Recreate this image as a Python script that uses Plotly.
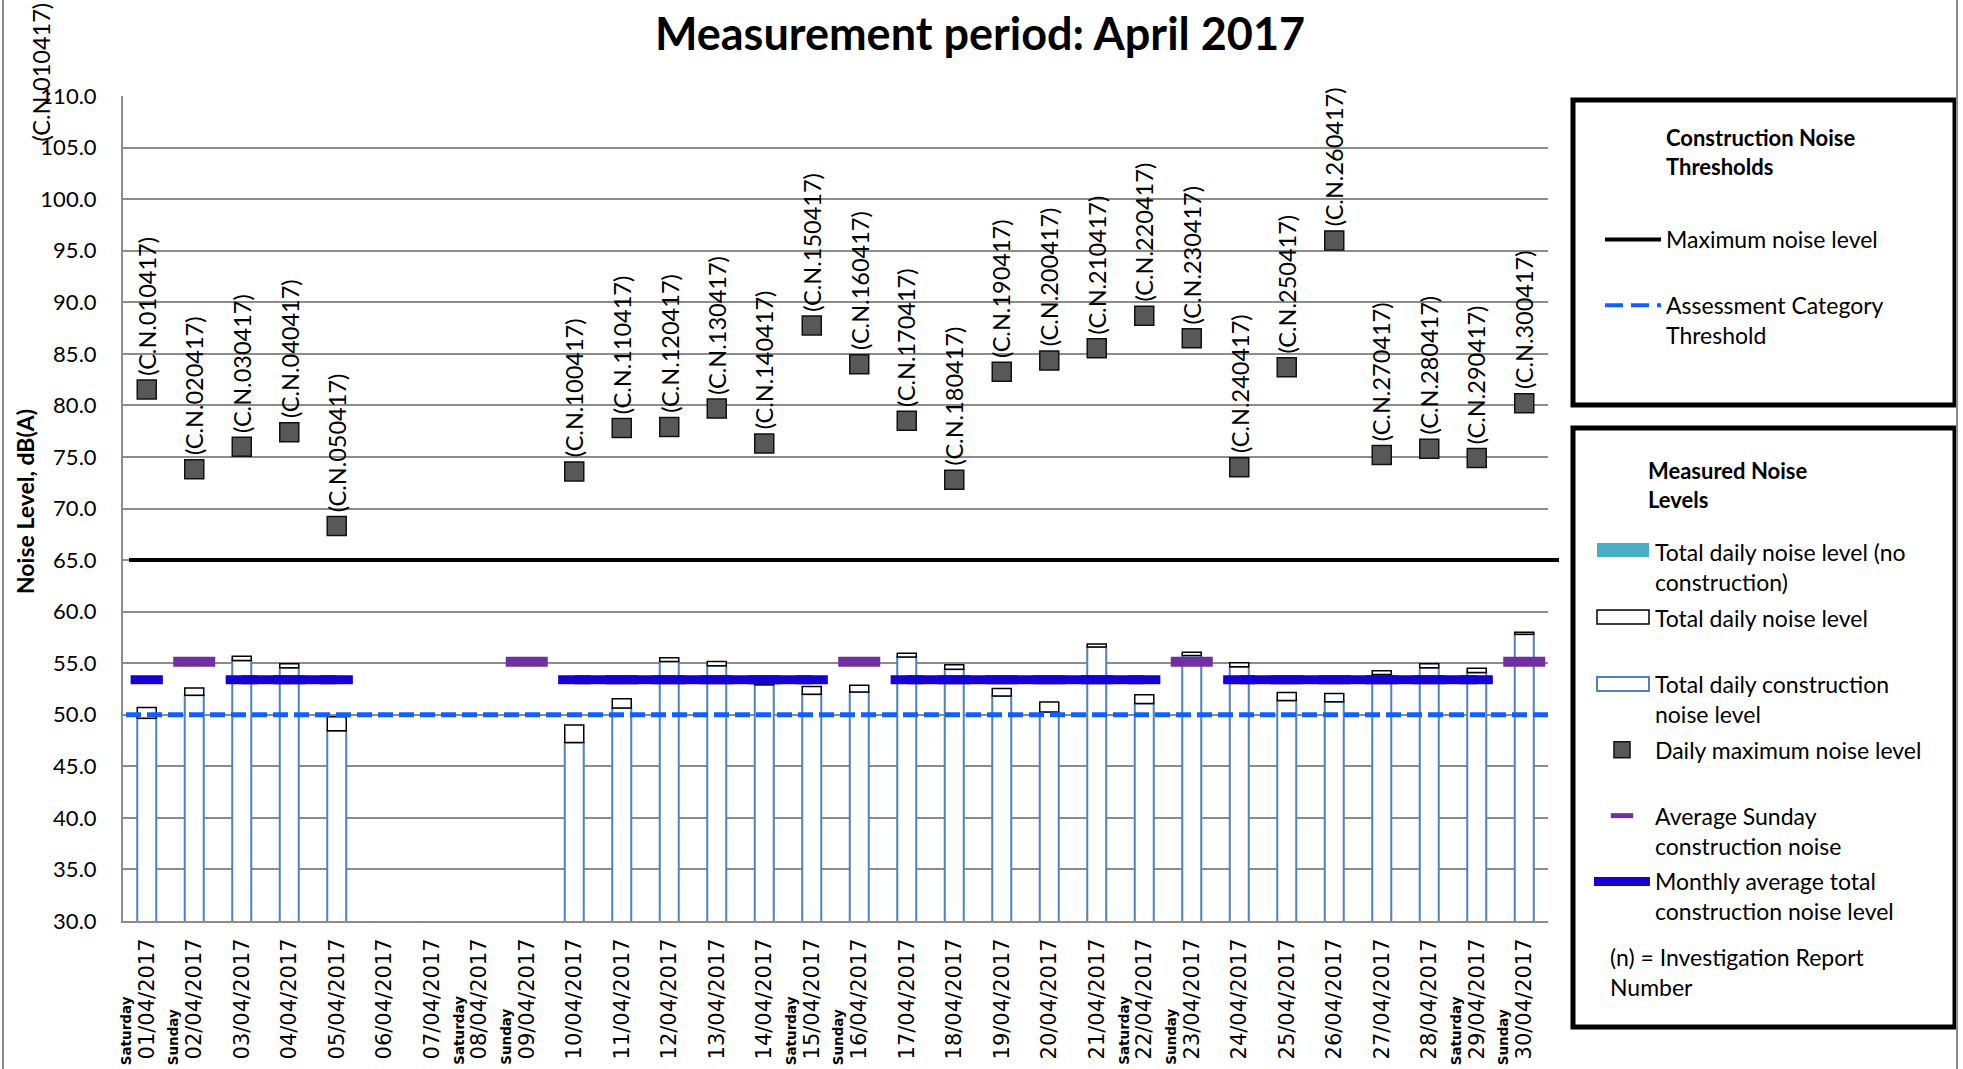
import plotly.graph_objects as go

# ---------------- data ----------------
days = list(range(1, 31))
dates = [f"{d:02d}/04/2017" for d in days]

weekday_names = {1: "Saturday", 2: "Sunday", 8: "Saturday", 9: "Sunday", 15: "Saturday",
                 16: "Sunday", 22: "Saturday", 23: "Sunday", 29: "Saturday", 30: "Sunday"}

# Total daily construction noise level, dB(A) (None = no measurement)
construction = [49.65, 51.9, 55.27, 54.55, 48.45, None, None, None, None, 47.3,
                50.66, 55.16, 54.75, 52.9, 52.0, 52.2, 55.6, 54.42, 51.83, 50.27,
                56.56, 51.1, 55.75, 54.65, 51.37, 51.27, 53.9, 54.55, 54.1, 57.8]
# Total daily noise level, dB(A)
total = [50.7, 52.6, 55.67, 54.94, 49.8, None, None, None, None, 49.0,
         51.54, 55.52, 55.16, 53.3, 52.75, 52.85, 55.97, 54.84, 52.54, 51.24,
         56.85, 51.93, 56.07, 55.05, 52.15, 52.05, 54.26, 54.94, 54.51, 58.0]
# Daily maximum noise level, dB(A)
daily_max = [81.55, 73.8, 76.0, 77.4, 68.3, None, None, None, None, 73.6,
             77.8, 77.9, 79.7, 76.3, 87.75, 84.0, 78.5, 72.8, 83.25, 84.35,
             85.55, 88.7, 86.5, 74.0, 83.7, 96.0, 75.2, 75.8, 74.9, 80.2]
# Average Sunday construction noise (Sundays only)
sunday_avg = [None, 55.15, None, None, None, None, None, None, 55.15, None,
              None, None, None, None, None, 55.15, None, None, None, None,
              None, None, 55.15, None, None, None, None, None, None, 55.15]
# Monthly average total construction noise level (working days)
monthly_avg = [53.4, None, 53.4, 53.4, 53.4, None, None, None, None, 53.4,
               53.4, 53.4, 53.4, 53.4, 53.4, None, 53.4, 53.4, 53.4, 53.4,
               53.4, 53.4, None, 53.4, 53.4, 53.4, 53.4, 53.4, 53.4, None]

max_noise_level = 65.0
assessment_threshold = 50.0

y_min, y_max, y_step = 30.0, 110.0, 5.0

# colours
C_CONSTR = "#4F81BD"
C_NOCON = "#4BACC6"
C_MONTH = "#1400D2"
C_SUNDAY = "#7030A0"
C_THRESH = "#1060FF"

# ---------------- layout helpers ----------------
W, H = 1963, 1069
PL, PR, PT, PB = 123, 1548, 96, 921


def px2x(px):
    return (px - PL) / (PR - PL)


def py2y(py):
    return (PB - py) / (PB - PT)


def cx(px):
    return px / W


def cy(py):
    return 1 - py / H


fig = go.Figure()

delta = [None if (t is None or c is None) else round(t - c, 2) for t, c in zip(total, construction)]

# ---- data traces ----
fig.add_trace(go.Bar(x=dates, y=construction, width=0.4, showlegend=False,
                     name="Total daily construction noise level",
                     marker=dict(color="white", line=dict(color=C_CONSTR, width=2))))

fig.add_trace(go.Bar(x=dates, y=delta, base=construction, width=0.4, showlegend=False,
                     name="Total daily noise level",
                     marker=dict(color="white", line=dict(color="black", width=1.5))))

fig.add_trace(go.Scatter(x=dates, y=monthly_avg, mode="lines+markers",
                         name="Monthly average total<br>construction noise level",
                         line=dict(color=C_MONTH, width=9),
                         marker=dict(symbol="line-ew", size=23, color=C_MONTH,
                                     line=dict(color=C_MONTH, width=9)),
                         connectgaps=False,
                         legend="legend2", legendgroup="g6", legendrank=6))

fig.add_trace(go.Scatter(x=dates, y=sunday_avg, mode="markers",
                         name="Average Sunday<br>construction noise",
                         marker=dict(symbol="line-ew", size=30, color=C_SUNDAY,
                                     line=dict(color=C_SUNDAY, width=10)),
                         legend="legend2", legendgroup="g5", legendrank=5))

fig.add_trace(go.Scatter(x=dates, y=daily_max, mode="markers",
                         name="Daily maximum noise level<br> ",
                         marker=dict(symbol="square", size=19, color="#585858",
                                     line=dict(color="#111111", width=1.5)),
                         legend="legend2", legendgroup="g4", legendrank=4))

# ---- legend text entries for the bar series (wide swatches drawn below as shapes) ----
for name, grp, rank in [("Total daily noise level (no<br>construction)", "g1", 1),
                        ("Total daily noise level<br> ", "g2", 2),
                        ("Total daily construction<br>noise level", "g3", 3)]:
    fig.add_trace(go.Scatter(x=[None], y=[None], mode="lines", name=name,
                             line=dict(color="rgba(0,0,0,0)", width=0),
                             legend="legend2", legendgroup=grp, legendrank=rank))

# threshold legend entries
fig.add_trace(go.Scatter(x=[None], y=[None], mode="lines", name="Maximum noise level<br> ",
                         line=dict(color="black", width=4),
                         legend="legend", legendgroup="t1", legendrank=1))
fig.add_trace(go.Scatter(x=[None], y=[None], mode="lines", name="Assessment Category<br>Threshold",
                         line=dict(color=C_THRESH, width=4, dash="18px,8px"),
                         legend="legend", legendgroup="t2", legendrank=2))

# threshold lines and frames
shapes = [
    dict(type="line", xref="paper", yref="y", x0=px2x(129), x1=px2x(1559),
         y0=max_noise_level, y1=max_noise_level, line=dict(color="black", width=4), layer="above"),
    dict(type="line", xref="paper", yref="y", x0=px2x(126), x1=px2x(1552),
         y0=assessment_threshold, y1=assessment_threshold,
         line=dict(color=C_THRESH, width=5, dash="15px,6px"), layer="above"),
    # legend boxes
    dict(type="rect", xref="paper", yref="paper", x0=px2x(1573), x1=px2x(1955),
         y0=py2y(405), y1=py2y(100), line=dict(color="black", width=5)),
    dict(type="rect", xref="paper", yref="paper", x0=px2x(1573), x1=px2x(1955),
         y0=py2y(1027), y1=py2y(428), line=dict(color="black", width=5)),
    # legend swatches for bar series
    dict(type="rect", xref="paper", yref="paper", x0=px2x(1597), x1=px2x(1649),
         y0=py2y(557), y1=py2y(543), fillcolor=C_NOCON, line=dict(width=0)),
    dict(type="rect", xref="paper", yref="paper", x0=px2x(1597), x1=px2x(1649),
         y0=py2y(624), y1=py2y(610), fillcolor="white", line=dict(color="black", width=1.5)),
    dict(type="rect", xref="paper", yref="paper", x0=px2x(1597), x1=px2x(1649),
         y0=py2y(691), y1=py2y(677), fillcolor="white", line=dict(color=C_CONSTR, width=2)),
    # chart-area frame edges
    dict(type="line", xref="paper", yref="paper", x0=px2x(3), x1=px2x(3),
         y0=py2y(1069), y1=py2y(0), line=dict(color="#8c8c8c", width=2)),
    dict(type="line", xref="paper", yref="paper", x0=px2x(1957), x1=px2x(1957),
         y0=py2y(1069), y1=py2y(0), line=dict(color="#8c8c8c", width=2)),
]

annotations = []
# investigation report labels
for d, v in zip(days, daily_max):
    if v is None:
        continue
    annotations.append(dict(x=dates[d - 1], y=v, xref="x", yref="y", text=f"(C.N.{d:02d}0417)",
                            textangle=-90, showarrow=False, xanchor="center", yanchor="bottom",
                            yshift=12, font=dict(family="Lato", size=23.5, color="black")))
# stray label at top-left of chart area
annotations.append(dict(x=px2x(40), y=py2y(144), xref="paper", yref="paper", text="(C.N.010417)",
                        textangle=-90, showarrow=False, xanchor="center", yanchor="bottom",
                        font=dict(family="Lato", size=23.5, color="black")))
# weekday names under the dates
for d, name in weekday_names.items():
    annotations.append(dict(x=dates[d - 1], y=py2y(1067), xref="x", yref="paper",
                            text=f"<b>{name}</b>", textangle=-90, showarrow=False,
                            xanchor="center", yanchor="bottom", xshift=-21,
                            font=dict(family="DejaVu Sans", size=13.5, color="black")))
# y-axis title
annotations.append(dict(x=px2x(25), y=py2y(502), xref="paper", yref="paper",
                        text="<b>Noise Level, dB(A)</b>", textangle=-90, showarrow=False,
                        xanchor="center", yanchor="middle",
                        font=dict(family="Lato", size=23, color="black")))
# legend titles and note
annotations.append(dict(x=px2x(1664), y=py2y(122), xref="paper", yref="paper",
                        text="<b>Construction Noise<br>Thresholds</b>", align="left", showarrow=False,
                        xanchor="left", yanchor="top",
                        font=dict(family="Lato", size=22, color="black")))
annotations.append(dict(x=px2x(1646), y=py2y(455), xref="paper", yref="paper",
                        text="<b>Measured Noise<br>Levels</b>", align="left", showarrow=False,
                        xanchor="left", yanchor="top",
                        font=dict(family="Lato", size=22, color="black")))
annotations.append(dict(x=px2x(1608), y=py2y(941), xref="paper", yref="paper",
                        text="(n) = Investigation Report<br>Number", align="left", showarrow=False,
                        xanchor="left", yanchor="top",
                        font=dict(family="Lato", size=23, color="black")))

legend_common = dict(bgcolor="rgba(0,0,0,0)", borderwidth=0, xanchor="left", yanchor="top",
                     xref="container", yref="container",
                     font=dict(family="Lato", size=23, color="black"), itemwidth=56,
                     valign="top", tracegroupgap=3, traceorder="grouped")

fig.update_layout(
    template="none",
    width=W, height=H,
    margin=dict(l=PL, r=W - PR, t=PT, b=H - PB, autoexpand=False),
    paper_bgcolor="white", plot_bgcolor="white",
    barmode="overlay",
    title=dict(text="<b>Measurement period: April 2017</b>", x=980 / W, xanchor="center",
               xref="container", yref="container",
               y=1 - 34 / H, yanchor="middle", font=dict(family="Lato", size=45, color="black")),
    xaxis=dict(type="category", categoryorder="array", categoryarray=dates, range=[-0.5, 29.5],
               tickangle=-90, tickfont=dict(family="DejaVu Sans", size=21, color="black"),
               showline=True, linecolor="#8c8c8c", linewidth=2, showgrid=False, ticks="",
               ticklabelstandoff=7, automargin=False, zeroline=False),
    yaxis=dict(range=[y_min, y_max], dtick=y_step, tick0=y_min, tickformat=".1f",
               tickfont=dict(family="Lato", size=22, color="black"),
               showline=True, linecolor="#8c8c8c", linewidth=2,
               showgrid=True, gridcolor="#8c8c8c", gridwidth=1.5, zeroline=False, ticks="",
               ticklabelstandoff=20, automargin=False),
    legend=dict(x=cx(1600), y=cy(218), **legend_common),
    legend2=dict(x=cx(1589), y=cy(531), **legend_common),
    shapes=shapes,
    annotations=annotations,
)

fig.write_html("out.html", config={"displayModeBar": False},
               post_script="document.body.style.margin='0px';document.body.style.overflow='hidden';")
